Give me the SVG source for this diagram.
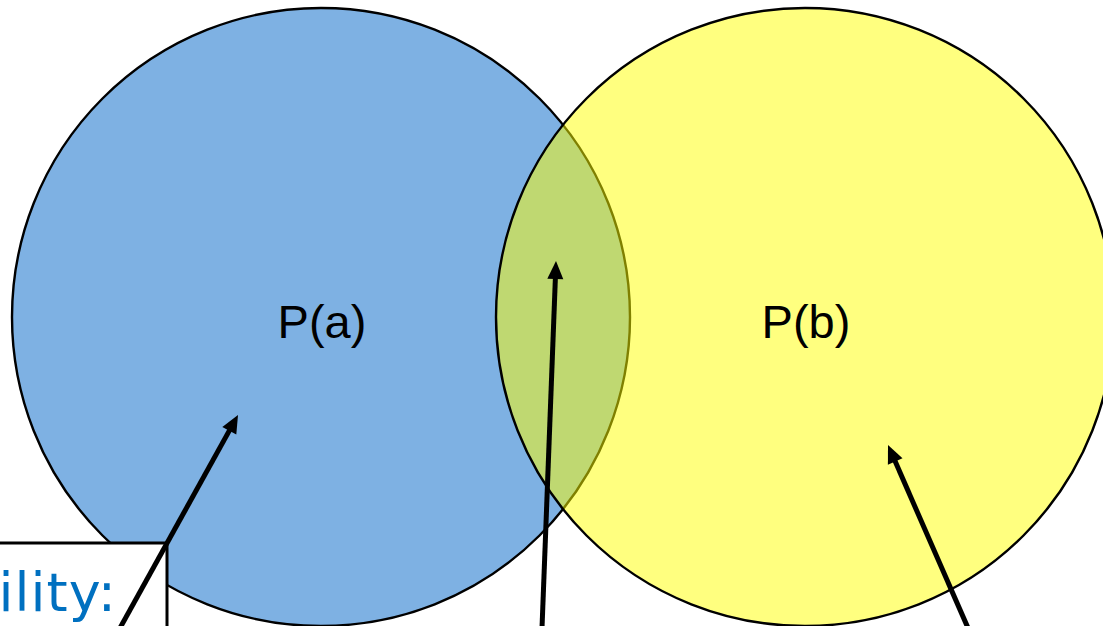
<svg xmlns="http://www.w3.org/2000/svg" width="1103" height="626" viewBox="0 0 1103 626">
<style>
.circ{stroke:#000;stroke-width:2.4}
.lbl{font-family:"Liberation Sans",Arial,sans-serif;font-size:47px;fill:#000;text-anchor:middle}
.conn{stroke:#000;stroke-width:5;fill:none}
.head{fill:#000;stroke:none}
</style>
<rect width="1103" height="626" fill="#fff"/>
<g id="circle-a">
<circle class="circ" cx="321" cy="317" r="309" fill="#7EB1E3"/>
</g>
<g id="circle-b">
<circle class="circ" cx="805" cy="317" r="309" fill="#FFFF00" fill-opacity="0.5"/>
</g>
<g id="label-a"><text class="lbl" x="322" y="338">P(a)</text></g>
<g id="label-b"><text class="lbl" x="806" y="338">P(b)</text></g>
<g id="box">
<rect x="-10" y="543" width="177" height="100" fill="#fff" stroke="#000" stroke-width="3"/>
<text x="117" y="611" text-anchor="end" font-family="'DejaVu Sans',Verdana,sans-serif" font-size="54" letter-spacing="1" fill="#0070C0">ility:</text>
</g>
<g id="connectors">
<line class="conn" x1="120" y1="628" x2="231" y2="427.6"/>
<polygon class="head" points="238,415 236.3,434.6 222.3,426.9"/>
<line class="conn" x1="542" y1="628" x2="555.5" y2="275"/>
<polygon class="head" points="556,261 563.3,279.3 547.3,278.7"/>
<line class="conn" x1="968" y1="628" x2="893.6" y2="457.8"/>
<polygon class="head" points="888,445 902.5,458.3 887.9,464.7"/>
</g>
</svg>
